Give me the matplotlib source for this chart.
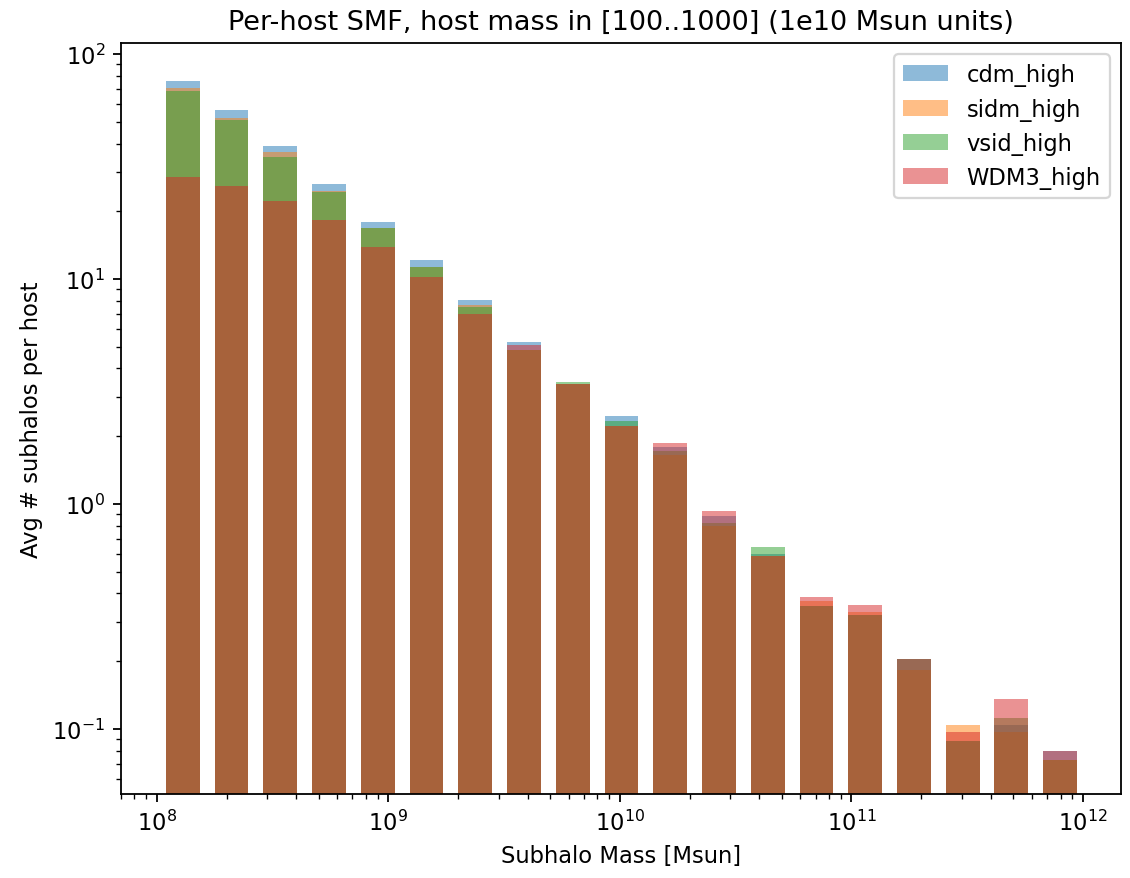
"""Per-host subhalo mass function for the high-mass host sample."""
import numpy as np
import matplotlib
matplotlib.use("Agg")
import matplotlib.pyplot as plt

# Subhalo mass bins (Msun), log-spaced between 1e8 and 1e12
bin_edges = np.logspace(8, 12, 20)

# Average number of subhalos per host in each bin
cdm_high = [76.1, 56.4, 39.1, 26.3, 17.9, 12.2, 8.09, 5.26, 3.41, 2.47,
            1.79, 0.882, 0.600, 0.351, 0.321, 0.205, 0.0887, 0.104, 0.080]
sidm_high = [70.6, 51.8, 36.5, 24.6, 16.9, 11.3, 7.69, 4.83, 3.41, 2.23,
             1.65, 0.796, 0.589, 0.372, 0.332, 0.183, 0.1045, 0.0967, 0.0728]
vsid_high = [68.7, 50.9, 34.7, 24.3, 16.8, 11.3, 7.48, 4.83, 3.50, 2.33,
             1.72, 0.823, 0.646, 0.351, 0.321, 0.205, 0.0887, 0.1116, 0.0728]
WDM3_high = [28.5, 25.8, 22.3, 18.2, 13.8, 10.2, 6.97, 5.09, 3.41, 2.23,
             1.86, 0.928, 0.589, 0.385, 0.356, 0.205, 0.0967, 0.136, 0.080]

labels = ["cdm_high", "sidm_high", "vsid_high", "WDM3_high"]
series = [cdm_high, sidm_high, vsid_high, WDM3_high]

DPI = 162.5


def plot_smf(edges, counts_list, names):
    """Overlay the per-host SMF of each model as translucent bars."""
    centers = 0.5 * (edges[:-1] + edges[1:])
    widths = 0.7 * np.diff(edges)

    fig = plt.figure(figsize=(1130 / DPI, 879 / DPI), dpi=DPI)
    ax = fig.add_subplot(111)
    fig.subplots_adjust(left=0.107, right=0.992, top=0.95, bottom=0.0956)

    for counts, name in zip(counts_list, names):
        ax.bar(centers, counts, width=widths, alpha=0.5, label=name)

    ax.set_xscale("log")
    ax.set_yscale("log")
    ax.set_xlim(10 ** 7.845, 10 ** 12.164)
    ax.set_ylim(10 ** -1.289, 10 ** 2.049)
    ax.set_xlabel("Subhalo Mass [Msun]")
    ax.set_ylabel("Avg # subhalos per host")
    ax.set_title("Per-host SMF, host mass in [100..1000] (1e10 Msun units)")
    ax.legend()

    fig.savefig("out.png", dpi=DPI)


plot_smf(bin_edges, series, labels)
